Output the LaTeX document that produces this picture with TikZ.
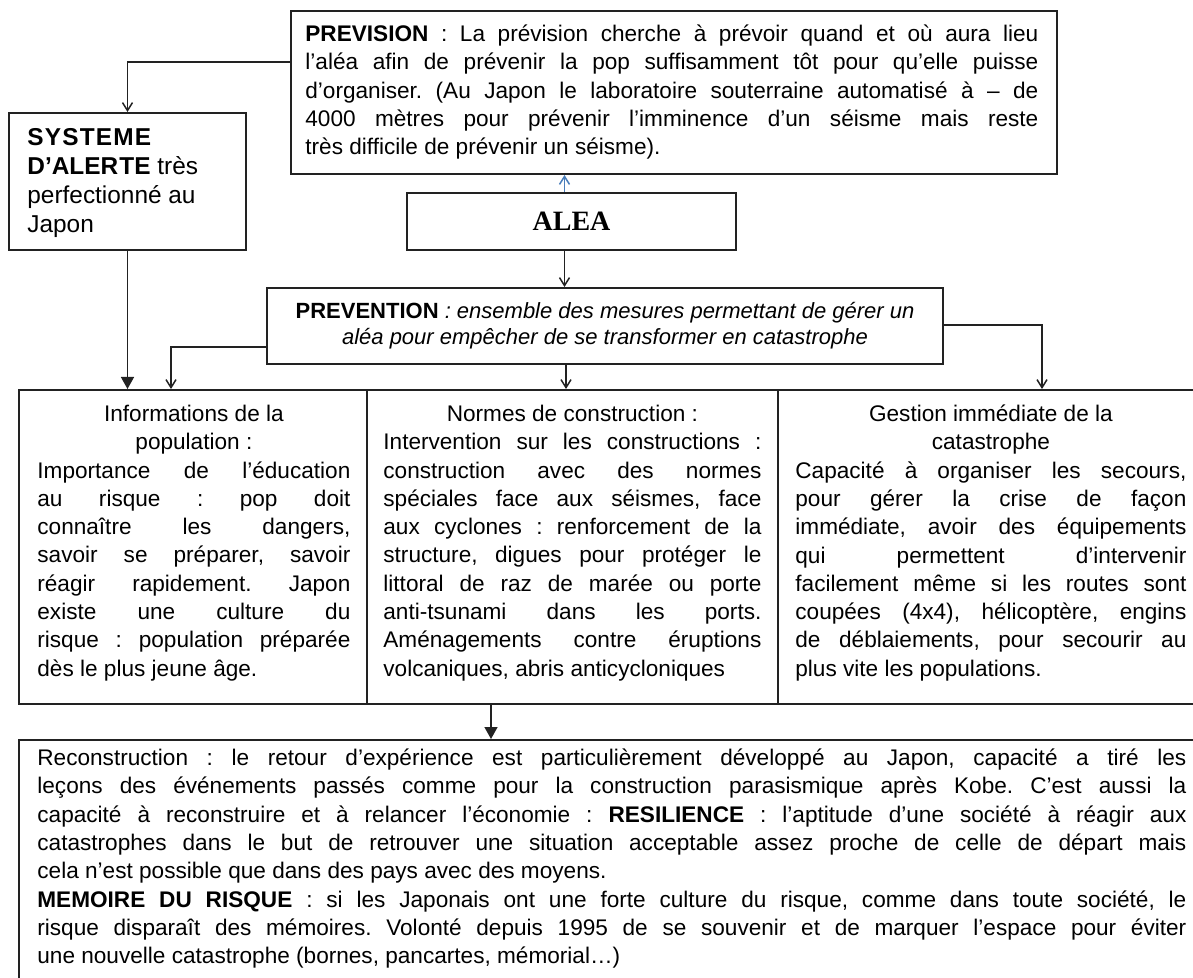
\documentclass[tikz,border=0pt]{standalone}
\usepackage{fontspec}
\setmainfont{Liberation Sans}
\newfontfamily\serifalea{Liberation Serif}
\usetikzlibrary{arrows.meta,calc}
\definecolor{bord}{HTML}{222222}
\definecolor{bluearr}{HTML}{4A7EBB}
\frenchspacing
\newcommand\jln[1]{\hbox to\hsize{\vrule height 8.25pt width 0pt #1}}
\newcommand\lln[1]{\hbox to\hsize{\vrule height 8.25pt width 0pt #1\hfil}}
\newcommand\cln[1]{\hbox to\hsize{\vrule height 8.25pt width 0pt\hfil #1\hfil}}
\newcommand\blk[3][14.15pt]{\vtop{\hsize=#2\relax\baselineskip=#1\lineskip=1pt\relax #3}}
\begin{document}
\begin{tikzpicture}[x=0.5pt,y=-0.5pt,
  box/.style={draw=bord,line width=1pt,rectangle,inner sep=0pt,anchor=north west},
  txt/.style={inner sep=0pt,anchor=north west,font=\fontsize{11.3}{14.15}\selectfont},
  conn/.style={draw=bord,line width=0.75pt},
  openarr/.style={conn,-{Straight Barb[length=4pt,width=5pt]}},
  fillarr/.style={conn,-{Triangle[length=6pt,width=6.5pt]}}]
\useasboundingbox (0,0) rectangle (1193,978);

% boxes
\node[box,minimum width=383pt,minimum height=81.5pt] (prev) at (290,10) {};
\node[box,minimum width=118.5pt,minimum height=68.5pt] (sys) at (8,112) {};
\node[box,minimum width=164.5pt,minimum height=28.5pt,font=\serifalea\bfseries\fontsize{14}{16}\selectfont] (alea) at (406,192) {ALEA};
\node[box,minimum width=338pt,minimum height=38pt,align=center,font=\fontsize{11}{13}\selectfont] (prevn) at (266,287)
  {\textbf{PREVENTION} \textit{: ensemble des mesures permettant de gérer un}\\\textit{aléa pour empêcher de se transformer en catastrophe}};
\node[box,minimum width=174pt,minimum height=157pt] (c1) at (18,389) {};
\node[box,minimum width=205.5pt,minimum height=157pt] (c2) at (366,389) {};
\node[box,minimum width=209.5pt,minimum height=157pt] (c3) at (777,389) {};
\node[box,minimum width=589pt,minimum height=125.5pt] (bot) at (18,739) {};

% texts
\node[txt] (prevt) at (305,24.5) {\blk{366.5pt}{%
\jln{\textbf{PREVISION} : La prévision cherche à prévoir quand et où aura lieu}%
\jln{l’aléa afin de prévenir la pop suffisamment tôt pour qu'elle puisse}%
\jln{d’organiser. (Au Japon le laboratoire souterraine automatisé à – de}%
\jln{4000 mètres pour prévenir l’imminence d’un séisme mais reste}%
\lln{très difficile de prévenir un séisme).}}};

\node[txt,font=\fontsize{12.2}{14.5}\selectfont] (syst) at (27,128) {\blk[14.5pt]{110pt}{%
\lln{\textbf{S\kern0.6pt Y\kern0.6pt S\kern0.6pt T\kern0.6pt E\kern0.6pt M\kern0.6pt E}}%
\lln{\textbf{D’ALER\kern0.6pt TE} très}%
\lln{perfectionné au}%
\lln{Japon}}};

\node[txt] (c1t) at (37,404.5) {\blk{156.5pt}{%
\cln{Informations de la}%
\cln{population :}%
\jln{Importance de l’éducation}%
\jln{au risque : pop doit}%
\jln{connaître les dangers,}%
\jln{savoir se préparer, savoir}%
\jln{réagir rapidement. Japon}%
\jln{existe une culture du}%
\jln{risque : population préparée}%
\lln{dès le plus jeune âge.}}};

\node[txt] (c2t) at (383,404.5) {\blk{189pt}{%
\cln{Normes de construction :}%
\jln{Intervention sur les constructions :}%
\jln{construction avec des normes}%
\jln{spéciales face aux séismes, face}%
\jln{aux cyclones : renforcement de la}%
\jln{structure, digues pour protéger le}%
\jln{littoral de raz de marée ou porte}%
\jln{anti-tsunami dans les ports.}%
\jln{Aménagements contre éruptions}%
\lln{volcaniques, abris anticycloniques}}};

\node[txt] (c3t) at (795,404.5) {\blk{195.5pt}{%
\cln{Gestion immédiate de la}%
\cln{catastrophe}%
\jln{Capacité à organiser les secours,}%
\jln{pour gérer la crise de façon}%
\jln{immédiate, avoir des équipements}%
\jln{qui permettent d’intervenir}%
\jln{facilement même si les routes sont}%
\jln{coupées (4x4), hélicoptère, engins}%
\jln{de déblaiements, pour secourir au}%
\lln{plus vite les populations.}}};

\node[txt] (bott) at (37,748.5) {\blk{574.5pt}{%
\jln{Reconstruction : le retour d’expérience est particulièrement développé au Japon, capacité a tiré les}%
\jln{leçons des événements passés comme pour la construction parasismique après Kobe. C’est aussi la}%
\jln{capacité à reconstruire et à relancer l’économie : \textbf{RESILIENCE} : l’aptitude d’une société à réagir aux}%
\jln{catastrophes dans le but de retrouver une situation acceptable assez proche de celle de départ mais}%
\lln{cela n’est possible que dans des pays avec des moyens.}%
\jln{\textbf{MEMOIRE DU RISQUE} : si les Japonais ont une forte culture du risque, comme dans toute société, le}%
\jln{risque disparaît des mémoires. Volonté depuis 1995 de se souvenir et de marquer l’espace pour éviter}%
\lln{une nouvelle catastrophe (bornes, pancartes, mémorial…)}}};

% connectors
\coordinate (pvl) at ([yshift=-26pt]prev.north west);
\draw[openarr] (pvl) -| (sys.north);
\draw[fillarr] (sys.south) -- (sys.south |- c1.north);
\coordinate (aup) at ([xshift=-3.5pt]alea.north);
\draw[openarr,draw=bluearr] (aup) -- (aup |- prev.south);
\coordinate (adn) at ([xshift=-3.5pt]alea.south);
\draw[openarr] (adn) -- (adn |- prevn.north);
\coordinate (pl) at ([yshift=-30pt]prevn.north west);
\coordinate (c1in) at ([xshift=-11pt]c1.north);
\draw[openarr] (pl) -| (c1in);
\coordinate (pm) at ([xshift=-19.5pt]prevn.south);
\draw[openarr] (pm) -- (pm |- c2.north);
\coordinate (pr) at ([yshift=-19pt]prevn.north east);
\coordinate (c3in) at ([xshift=27.25pt]c3.north);
\draw[openarr] (pr) -| (c3in);
\coordinate (tdn) at ([xshift=-40.75pt]c2.south);
\draw[fillarr] (tdn) -- (tdn |- bot.north);
\end{tikzpicture}
\end{document}
